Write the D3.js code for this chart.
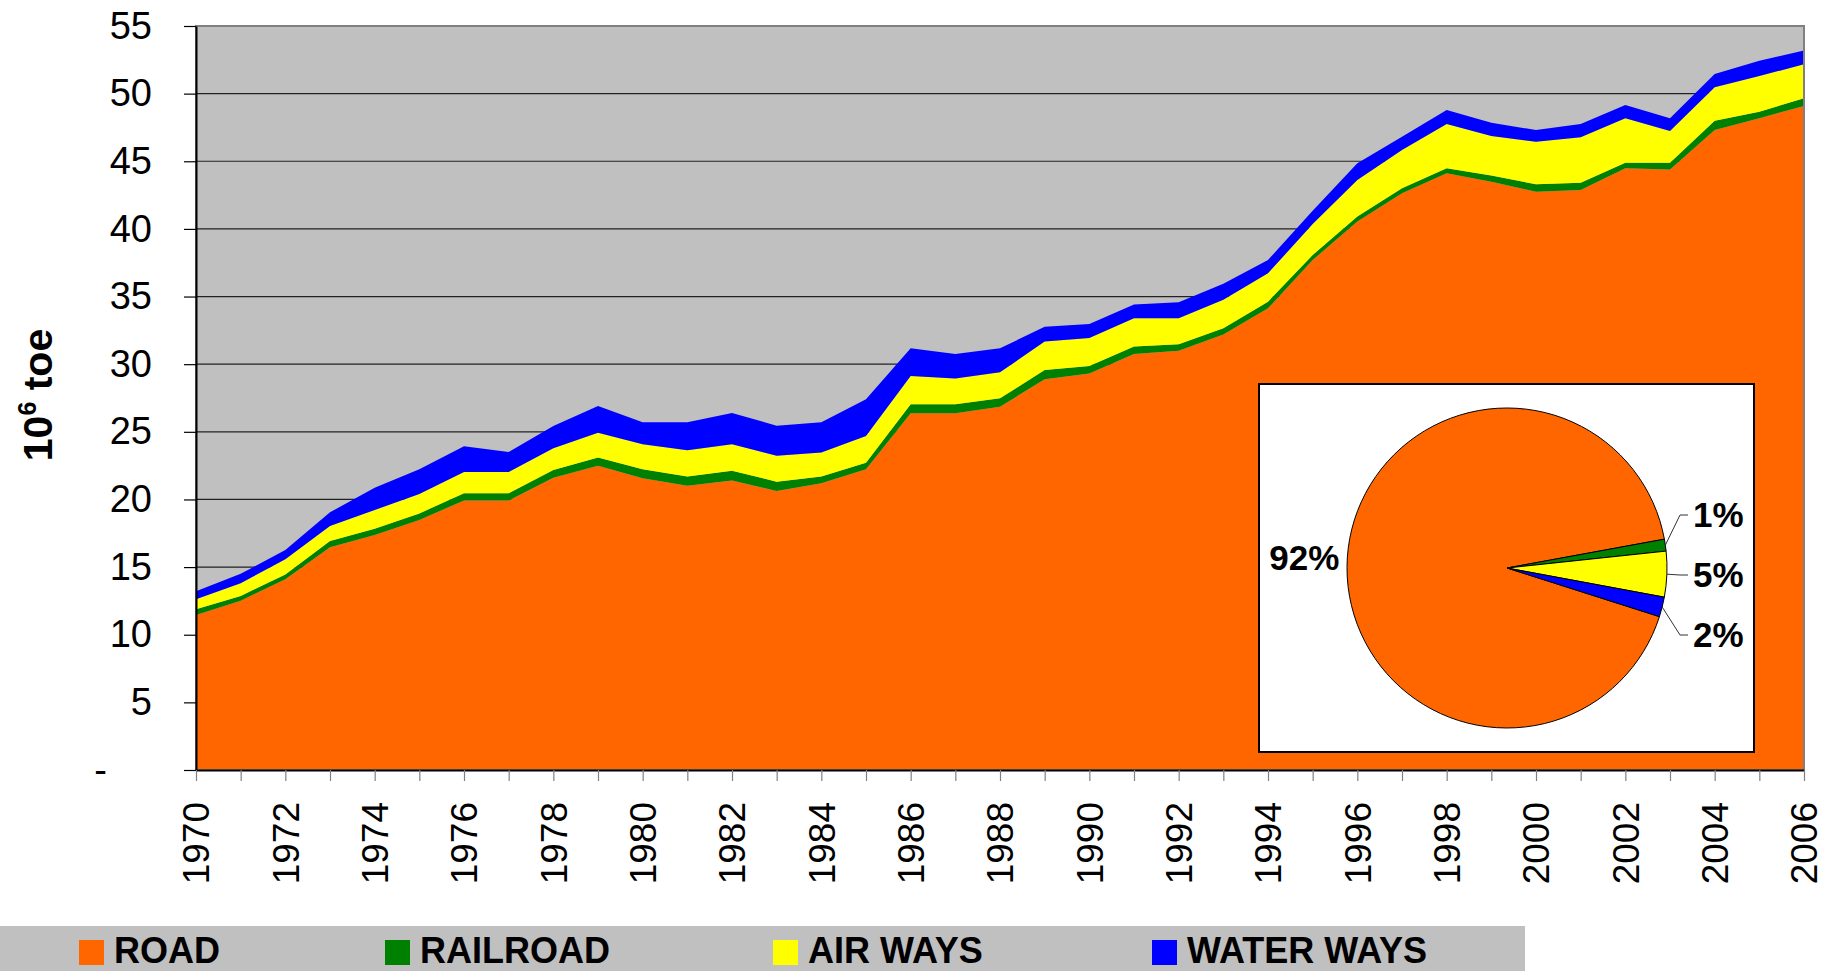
<!DOCTYPE html>
<html>
<head>
<meta charset="utf-8">
<script src="https://cdn.jsdelivr.net/npm/d3@7/dist/d3.min.js"></script>
<style>
  body { margin: 0; background: #fff; }
  text { font-family: Arial, "Liberation Sans", sans-serif; }
</style>
</head>
<body>
<div id="chart"></div>
<script>
// energy use in transport, 10^6 toe
var years = [1970, 1971, 1972, 1973, 1974, 1975, 1976, 1977, 1978, 1979,
             1980, 1981, 1982, 1983, 1984, 1985, 1986, 1987, 1988, 1989,
             1990, 1991, 1992, 1993, 1994, 1995, 1996, 1997, 1998, 1999,
             2000, 2001, 2002, 2003, 2004, 2005, 2006];

var road = [11.46, 12.52, 14.10, 16.46, 17.37, 18.48, 19.93, 19.93, 21.61, 22.50,
            21.56, 21.02, 21.40, 20.63, 21.19, 22.23, 26.37, 26.37, 26.86, 28.88,
            29.32, 30.75, 31.00, 32.20, 34.13, 37.70, 40.54, 42.63, 44.11, 43.49,
            42.75, 42.88, 44.48, 44.40, 47.31, 48.18, 49.09];
var railroad = [0.42, 0.35, 0.35, 0.47, 0.47, 0.49, 0.52, 0.52, 0.57, 0.61,
                0.67, 0.67, 0.73, 0.68, 0.50, 0.49, 0.66, 0.66, 0.62, 0.69,
                0.55, 0.55, 0.47, 0.45, 0.49, 0.37, 0.37, 0.37, 0.37, 0.45,
                0.55, 0.54, 0.42, 0.50, 0.69, 0.49, 0.56];
var airways = [0.74, 0.94, 1.13, 1.11, 1.38, 1.43, 1.58, 1.58, 1.60, 1.83,
               1.85, 1.94, 1.95, 1.93, 1.79, 1.97, 2.10, 1.92, 1.92, 2.10,
               2.07, 2.09, 1.92, 2.12, 2.10, 2.29, 2.71, 2.83, 3.28, 2.93,
               3.15, 3.35, 3.28, 2.34, 2.47, 2.63, 2.52];
var waterways = [0.59, 0.69, 0.69, 1.01, 1.65, 1.83, 1.90, 1.48, 1.65, 1.97,
                 1.62, 2.07, 2.31, 2.21, 2.22, 2.71, 2.04, 1.80, 1.77, 1.10,
                 1.03, 1.03, 1.18, 1.17, 0.98, 0.99, 1.23, 0.99, 1.03, 0.98,
                 0.86, 0.99, 0.98, 0.94, 0.98, 1.14, 1.01];

var seriesNames = ["ROAD", "RAILROAD", "AIR WAYS", "WATER WAYS"];
var seriesColors = ["#FF6600", "#008000", "#FFFF00", "#0000FF"];

// share of each mode (inset pie), %
var pieShares = [92.2, 1.2, 4.6, 2.0];

var yTicks = [0, 5, 10, 15, 20, 25, 30, 35, 40, 45, 50, 55];

var width = 1829,
    height = 971,
    plotL = 196, plotR = 1804, plotT = 26, plotB = 770;

var table = years.map(function(yr, i) {
  return { year: yr, ROAD: road[i], RAILROAD: railroad[i], "AIR WAYS": airways[i], "WATER WAYS": waterways[i] };
});

var x = d3.scaleLinear().domain([1970, 2006]).range([plotL, plotR]);
var y = d3.scaleLinear().domain([0, 55]).range([plotB, plotT]);
var color = d3.scaleOrdinal().domain(seriesNames).range(seriesColors);

var svg = d3.select("#chart").append("svg")
    .attr("width", width)
    .attr("height", height)
    .style("display", "block");

svg.append("rect").attr("width", width).attr("height", height).attr("fill", "#fff");

// plot background
svg.append("rect")
    .attr("x", plotL).attr("y", plotT)
    .attr("width", plotR - plotL).attr("height", plotB - plotT)
    .attr("fill", "#C0C0C0");

// gridlines
svg.append("g").selectAll("line")
    .data(yTicks.filter(function(d) { return d > 0 && d < 55; }))
  .enter().append("line")
    .attr("x1", plotL).attr("x2", plotR)
    .attr("y1", function(d) { return y(d); })
    .attr("y2", function(d) { return y(d); })
    .attr("stroke", "#222")
    .attr("stroke-width", 1.2);

var stack = d3.stack().keys(seriesNames);
var layers = stack(table);

var area = d3.area()
    .x(function(d) { return x(d.data.year); })
    .y0(function(d) { return y(d[0]); })
    .y1(function(d) { return y(d[1]); });

svg.append("g").selectAll("path")
    .data(layers)
  .enter().append("path")
    .attr("d", area)
    .attr("fill", function(d) { return color(d.key); });

// plot border (top/right grey)
svg.append("rect")
    .attr("x", plotL).attr("y", plotT)
    .attr("width", plotR - plotL).attr("height", plotB - plotT)
    .attr("fill", "none")
    .attr("stroke", "#808080")
    .attr("stroke-width", 2);

// y axis
var yAxis = svg.append("g")
    .attr("transform", "translate(" + plotL + ",0)")
    .call(d3.axisLeft(y)
      .tickValues(yTicks)
      .tickSize(12)
      .tickSizeOuter(0)
      .tickPadding(32)
      .tickFormat(function(d) { return d === 0 ? "-" : d; }));
yAxis.select(".domain").attr("stroke", "#000").attr("stroke-width", 2);
yAxis.selectAll(".tick line").attr("stroke", "#000").attr("stroke-width", 1.2);
yAxis.selectAll(".tick text")
    .attr("font-size", 38)
    .attr("fill", "#000")
    .attr("x", function(d) { return d === 0 ? -89 : -44; });

// x axis
var xAxis = svg.append("g")
    .attr("transform", "translate(0," + plotB + ")")
    .call(d3.axisBottom(x)
      .tickValues(years)
      .tickSize(11)
      .tickSizeOuter(0)
      .tickFormat(function(d) { return d % 2 === 0 ? d : ""; }));
xAxis.select(".domain").attr("stroke", "#000").attr("stroke-width", 2);
xAxis.selectAll(".tick line").attr("stroke", "#808080").attr("stroke-width", 1.2);
xAxis.selectAll(".tick text")
    .attr("font-size", 37)
    .attr("fill", "#000")
    .attr("transform", "rotate(-90)")
    .attr("text-anchor", "end")
    .attr("x", -32)
    .attr("y", 0)
    .attr("dy", "0.35em");

// y title
var yTitle = svg.append("text")
    .attr("transform", "translate(52,395) rotate(-90)")
    .attr("text-anchor", "middle")
    .attr("font-size", 41)
    .attr("font-weight", "bold");
yTitle.append("tspan").text("10");
yTitle.append("tspan").attr("font-size", 25).attr("dy", -16).text("6");
yTitle.append("tspan").attr("dy", 16).text(" toe");

// inset pie
var box = { x: 1259, y: 384, w: 495, h: 368 };
svg.append("rect")
    .attr("x", box.x).attr("y", box.y)
    .attr("width", box.w).attr("height", box.h)
    .attr("fill", "#fff")
    .attr("stroke", "#000")
    .attr("stroke-width", 2);

var cx = 1507, cy = 568, r = 160;
var startA = 107.7 * Math.PI / 180;
var pie = d3.pie().sort(null).startAngle(startA).endAngle(startA + 2 * Math.PI);
var arcs = pie(pieShares);
var arc = d3.arc().innerRadius(0).outerRadius(r);

var pg = svg.append("g").attr("transform", "translate(" + cx + "," + cy + ")");
pg.selectAll("path")
    .data(arcs)
  .enter().append("path")
    .attr("d", arc)
    .attr("fill", function(d, i) { return seriesColors[i]; })
    .attr("stroke", "#000")
    .attr("stroke-width", 1);

var fmtPct = function(v) { return Math.round(v) + "%"; };

arcs.forEach(function(d, i) {
  var mid = (d.startAngle + d.endAngle) / 2;
  var px = Math.sin(mid) * r, py = -Math.cos(mid) * r;
  if (i === 0) {
    // big slice label on the left
    pg.append("text")
      .attr("x", px - 8).attr("y", py)
      .attr("dy", "0.35em")
      .attr("text-anchor", "end")
      .attr("font-size", 35)
      .attr("font-weight", "bold")
      .text(fmtPct(pieShares[i]));
  } else {
    // small slices stacked on the right with leader lines
    var ly = (i - 2) * 60 + 7;
    var lx = r + 26;
    pg.append("polyline")
      .attr("points", [[px, py], [lx - 13, ly], [lx - 5, ly]].map(function(p) { return p.join(","); }).join(" "))
      .attr("fill", "none")
      .attr("stroke", "#333")
      .attr("stroke-width", 1);
    pg.append("text")
      .attr("x", lx).attr("y", ly)
      .attr("dy", "0.35em")
      .attr("font-size", 35)
      .attr("font-weight", "bold")
      .text(fmtPct(pieShares[i]));
  }
});

// legend band
svg.append("rect")
    .attr("x", 0).attr("y", 926)
    .attr("width", 1525).attr("height", 60)
    .attr("fill", "#C0C0C0");

var legendX = [79, 385, 773, 1152];
var lg = svg.append("g").selectAll("g")
    .data(seriesNames)
  .enter().append("g")
    .attr("transform", function(d, i) { return "translate(" + legendX[i] + ",940)"; });
lg.append("rect")
    .attr("width", 25).attr("height", 25)
    .attr("fill", function(d) { return color(d); });
lg.append("text")
    .attr("x", 35).attr("y", 23)
    .attr("font-size", 36)
    .attr("font-weight", "bold")
    .text(function(d) { return d; });
</script>
</body>
</html>
